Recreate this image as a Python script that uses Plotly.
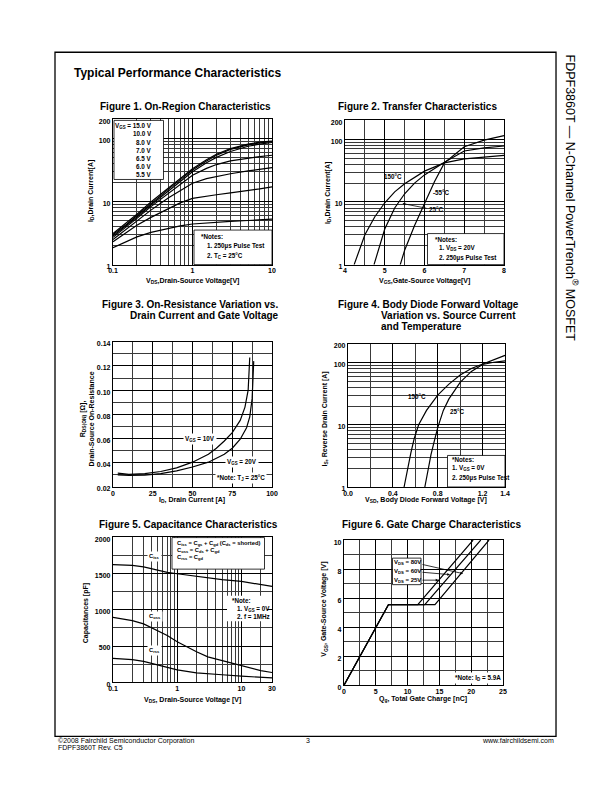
import plotly.graph_objects as go
import math

W, H = 612, 792
FONT = "Liberation Sans, Arial, sans-serif"

# ---------------- DATA ----------------
# Figure 1: On-Region Characteristics (ID vs VDS, by VGS)
f1_vds = [0.1, 0.15, 0.2, 0.3, 0.5, 0.7, 1, 1.5, 2, 3, 5, 7, 10]
f1_id_15v = [3.1, 4.6, 6.3, 9.8, 16.5, 23, 33, 46, 56, 69, 81, 87, 91]
f1_id_10v = [3.0, 4.4, 6.0, 9.3, 15.7, 22, 31.5, 44, 54, 67, 79, 85, 89]
f1_id_8v = [2.85, 4.2, 5.7, 8.8, 14.8, 20.5, 29.5, 41, 50, 62, 75, 81, 86]
f1_id_7v = [2.7, 4.0, 5.4, 8.3, 13.6, 18.6, 26, 33.5, 38.5, 44, 49, 51.5, 54]
f1_id_65v = [2.5, 3.7, 4.9, 7.3, 11.5, 15, 19.5, 23, 25, 27.5, 30.5, 32.5, 34.5]
f1_id_6v = [2.3, 3.3, 4.2, 5.6, 7.8, 9.5, 11.2, 12.2, 12.8, 13.7, 14.8, 15.8, 17]
f1_id_55v = [1.85, 2.35, 2.75, 3.25, 3.8, 4.1, 4.4, 4.6, 4.7, 4.85, 5.0, 5.1, 5.25]
f1_legend = ["15.0 V", "10.0 V", "8.0 V", "7.0 V", "6.5 V", "6.0 V", "5.5 V"]

# Figure 2: Transfer Characteristics
f2_vgs_150 = [4.23, 4.5, 4.75, 5.0, 5.25, 5.5, 6.0, 6.5, 7.0, 7.5, 8.0]
f2_id_150 = [1.0, 3.0, 5.8, 9.7, 14.5, 19.5, 31, 42, 48.5, 52.5, 55.5]
f2_vgs_25 = [4.73, 5.0, 5.25, 5.5, 5.75, 6.0, 6.5, 7.0, 7.5, 8.0]
f2_id_25 = [1.0, 3.7, 8.0, 13.5, 20, 27, 43, 65, 73, 78]
f2_vgs_m55 = [5.39, 5.5, 5.75, 6.0, 6.25, 6.5, 7.0, 7.5, 8.0]
f2_id_m55 = [1.0, 1.7, 4.2, 9.5, 21, 42, 76, 97, 114]

# Figure 3: On-Resistance vs Drain Current
f3_id_10v = [3, 10, 20, 30, 40, 50, 60, 65, 70, 75, 80, 83, 85, 86]
f3_r_10v = [0.0315, 0.0305, 0.031, 0.0328, 0.0358, 0.0405, 0.047, 0.052, 0.058,
            0.065, 0.075, 0.086, 0.100, 0.127]
f3_id_20v = [3, 10, 20, 30, 40, 50, 60, 70, 75, 80, 84, 86, 87.5, 88.5]
f3_r_20v = [0.0300, 0.0295, 0.0298, 0.031, 0.0333, 0.0365, 0.0405, 0.047, 0.052,
            0.0595, 0.069, 0.078, 0.093, 0.124]

# Figure 4: Body Diode Forward Voltage
f4_vsd_150 = [0.50, 0.53, 0.56, 0.59, 0.63, 0.7, 0.8, 0.9, 1.0, 1.1, 1.2, 1.3, 1.4]
f4_is_150 = [1.0, 2.0, 3.5, 6.0, 10, 17, 30, 45, 63, 80, 95, 112, 130]
f4_vsd_25 = [0.685, 0.71, 0.74, 0.77, 0.8, 0.85, 0.9, 1.0, 1.1, 1.2, 1.3, 1.4]
f4_is_25 = [1.0, 1.8, 3.3, 5.5, 9, 17, 26, 48, 72, 93, 101, 106]

# Figure 5: Capacitance Characteristics
f5_vds = [0.1, 0.2, 0.3, 0.5, 0.7, 1, 2, 3, 5, 10, 20, 30]
f5_ciss = [1620, 1610, 1590, 1545, 1515, 1495, 1460, 1440, 1415, 1390, 1345, 1320]
f5_coss = [895, 850, 805, 715, 645, 560, 420, 350, 300, 225, 160, 135]
f5_crss = [330, 312, 288, 240, 205, 172, 130, 115, 104, 85, 68, 60]

# Figure 6: Gate Charge Characteristics
f6_qg_25v = [0, 7.0, 11.6, 20.3]
f6_vgs_25v = [0, 5.56, 5.56, 10]
f6_qg_60v = [0, 7.0, 12.7, 21.5]
f6_vgs_60v = [0, 5.56, 5.56, 10]
f6_qg_80v = [0, 7.0, 14.3, 22.8]
f6_vgs_80v = [0, 5.56, 5.56, 10]

# ---------------- HELPERS ----------------
# page-pixel -> paper coordinates (compensates for the page placement of the figure)
SX, OX = 0.982, 12.0
SY, OY = 0.9895, 11.8


def px(x):
    return ((x - OX) / SX) / W


def py(y):
    return 1 - ((y - OY) / SY) / H


fig = go.Figure()
annotations = []
shapes = []


def line_trace(x, y, n, width=1.2):
    xa = "x" if n == 1 else f"x{n}"
    ya = "y" if n == 1 else f"y{n}"
    fig.add_trace(go.Scatter(x=x, y=y, mode="lines", xaxis=xa, yaxis=ya,
                             line=dict(color="black", width=width),
                             hoverinfo="skip", showlegend=False))


def txt(x, y, s, size=6.5, bold=True, xanchor="center", yanchor="middle",
        angle=0, bg=None, color="black"):
    a = dict(x=px(x), y=py(y), xref="paper", yref="paper", text=s,
             showarrow=False, xanchor=xanchor, yanchor=yanchor,
             textangle=angle,
             font=dict(family=FONT, size=size, color=color,
                       weight="bold" if bold else "normal"))
    if bg:
        a["bgcolor"] = bg
        a["borderpad"] = 1
    annotations.append(a)


def arrow(tip, tail):
    annotations.append(dict(x=px(tip[0]), y=py(tip[1]), xref="paper", yref="paper",
                            text="", showarrow=True, ax=tail[0] - tip[0],
                            ay=tail[1] - tip[1], arrowhead=2, arrowsize=0.7,
                            arrowwidth=0.8, arrowcolor="black"))


def box(x0, y0, x1, y1, border=True):
    shapes.append(dict(type="rect", xref="paper", yref="paper",
                       x0=px(x0), x1=px(x1), y0=py(y1), y1=py(y0),
                       fillcolor="white",
                       line=dict(color="black", width=0.8 if border else 0),
                       layer="above"))


def axis(dom, anchor, typ, rng, major, labels, minor, is_x):
    d = dict(domain=dom, anchor=anchor, type=typ, range=rng,
             showline=True, mirror=True, linecolor="black", linewidth=1.3,
             ticks="", tickmode="array", tickvals=major, ticktext=labels,
             showgrid=True, gridcolor="black", gridwidth=1.1, zeroline=False,
             tickfont=dict(family=FONT, size=7, color="black", weight="bold"),
             minor=dict(tickmode="array", tickvals=minor, showgrid=True,
                        gridcolor="#3a3a3a", gridwidth=0.5, ticks=""),
             fixedrange=True)
    if is_x:
        d["ticklabelstandoff"] = -1
    else:
        d["ticklabelshift"] = 2
    return d


def xdom(a, b):
    return [px(a), px(b)]


def ydom(top, bottom):
    return [py(bottom), py(top)]


log_minor_1_200 = [2, 3, 4, 5, 6, 7, 8, 9, 20, 30, 40, 50, 60, 70, 80, 90]

# ---------------- TRACES ----------------
for ys in [f1_id_15v, f1_id_10v, f1_id_8v, f1_id_7v, f1_id_65v, f1_id_6v, f1_id_55v]:
    line_trace(f1_vds, ys, 1)

line_trace(f2_vgs_150, f2_id_150, 2)
line_trace(f2_vgs_25, f2_id_25, 2)
line_trace(f2_vgs_m55, f2_id_m55, 2)

line_trace(f3_id_10v, f3_r_10v, 3)
line_trace(f3_id_20v, f3_r_20v, 3)

line_trace(f4_vsd_150, f4_is_150, 4)
line_trace(f4_vsd_25, f4_is_25, 4)

line_trace(f5_vds, f5_ciss, 5)
line_trace(f5_vds, f5_coss, 5)
line_trace(f5_vds, f5_crss, 5)

line_trace(f6_qg_25v, f6_vgs_25v, 6)
line_trace(f6_qg_60v, f6_vgs_60v, 6)
line_trace(f6_qg_80v, f6_vgs_80v, 6)

# ---------------- AXES ----------------
layout_axes = dict(
    xaxis=axis(xdom(112, 271), "y", "log", [-1, 1], [0.1, 1, 10], ["0.1", "1", "10"],
               [0.2, 0.3, 0.4, 0.5, 0.6, 0.7, 0.8, 0.9, 2, 3, 4, 5, 6, 7, 8, 9], True),
    yaxis=axis(ydom(121, 266), "x", "log", [0, math.log10(200)], [1, 10, 100, 200],
               ["1", "10", "100", "200"], log_minor_1_200, False),
    xaxis2=axis(xdom(344, 503), "y2", "linear", [4, 8], [4, 5, 6, 7, 8],
                ["4", "5", "6", "7", "8"], [4.5, 5.5, 6.5, 7.5], True),
    yaxis2=axis(ydom(122, 266), "x2", "log", [0, math.log10(200)], [1, 10, 100, 200],
                ["1", "10", "100", "200"], log_minor_1_200, False),
    xaxis3=axis(xdom(112, 271), "y3", "linear", [0, 100], [0, 25, 50, 75, 100],
                ["0", "25", "50", "75", "100"], [12.5, 37.5, 62.5, 87.5], True),
    yaxis3=axis(ydom(343, 488), "x3", "linear", [0.02, 0.14],
                [0.02, 0.04, 0.06, 0.08, 0.10, 0.12, 0.14],
                ["0.02", "0.04", "0.06", "0.08", "0.10", "0.12", "0.14"],
                [0.03, 0.05, 0.07, 0.09, 0.11, 0.13], False),
    xaxis4=axis(xdom(347, 504), "y4", "linear", [0, 1.4], [0, 0.4, 0.8, 1.2, 1.4],
                ["0.0", "0.4", "0.8", "1.2", "1.4"], [0.2, 0.6, 1.0], True),
    yaxis4=axis(ydom(345, 488), "x4", "log", [0, math.log10(200)], [1, 10, 100, 200],
                ["1", "10", "100", "200"], log_minor_1_200, False),
    xaxis5=axis(xdom(112, 271), "y5", "log", [-1, math.log10(30)], [0.1, 1, 10, 30],
                ["0.1", "1", "10", "30"],
                [0.2, 0.3, 0.4, 0.5, 0.6, 0.7, 0.8, 0.9, 2, 3, 4, 5, 6, 7, 8, 9, 20], True),
    yaxis5=axis(ydom(538, 683), "x5", "linear", [0, 2000], [0, 500, 1000, 1500, 2000],
                ["0", "500", "1000", "1500", "2000"], [250, 750, 1250, 1750], False),
    xaxis6=axis(xdom(343, 502), "y6", "linear", [0, 25], [0, 5, 10, 15, 20, 25],
                ["0", "5", "10", "15", "20", "25"], [2.5, 7.5, 12.5, 17.5, 22.5], True),
    yaxis6=axis(ydom(541, 686), "x6", "linear", [0, 10], [0, 2, 4, 6, 8, 10],
                ["0", "2", "4", "6", "8", "10"], [1, 3, 5, 7, 9], False),
)

# ---------------- PAGE TEXT ----------------
shapes.append(dict(type="rect", xref="paper", yref="paper", x0=px(54), x1=px(555),
                   y0=py(737), y1=py(54), line=dict(color="black", width=1.3),
                   fillcolor="rgba(0,0,0,0)", layer="below"))
txt(71, 75, "Typical Performance Characteristics", size=12, xanchor="left")
txt(571, 199, "FDPF3860T — N-Channel PowerTrench<sup>®</sup> MOSFET", size=12.5,
    bold=False, angle=90)

# Figure titles
txt(184, 108.5, "Figure 1. On-Region Characteristics", size=10)
txt(416, 108.5, "Figure 2. Transfer Characteristics", size=10)
txt(99, 306, "Figure 3. On-Resistance Variation vs.", size=10, xanchor="left")
txt(127, 317, "Drain Current and Gate Voltage", size=10, xanchor="left")
txt(335, 306, "Figure 4. Body Diode Forward Voltage", size=10, xanchor="left")
txt(378, 317, "Variation vs. Source Current", size=10, xanchor="left")
txt(378, 328, "and Temperature", size=10, xanchor="left")
txt(187, 525, "Figure 5. Capacitance Characteristics", size=10)
txt(430, 525, "Figure 6. Gate Charge Characteristics", size=10)

# Axis titles
txt(191, 282.5, "V<sub>DS</sub>,Drain-Source Voltage[V]", size=7)
txt(89.5, 193, "I<sub>D</sub>,Drain Current[A]", size=7, angle=-90)
txt(423, 282.5, "V<sub>GS</sub>,Gate-Source Voltage[V]", size=7)
txt(326.5, 195, "I<sub>D</sub>,Drain Current[A]", size=7, angle=-90)
txt(191, 501, "I<sub>D</sub>, Drain Current [A]", size=7)
txt(85.5, 420, "R<sub>DS(ON)</sub> [Ω],<br>Drain-Source On-Resistance", size=7, angle=-90)
txt(425, 501, "V<sub>SD</sub>, Body Diode Forward Voltage [V]", size=7)
txt(323.5, 420, "I<sub>S</sub>, Reverse Drain Current [A]", size=7, angle=-90)
txt(191, 700.5, "V<sub>DS</sub>, Drain-Source Voltage [V]", size=7)
txt(85, 614, "Capacitances [pF]", size=7, angle=-90)
txt(422, 700, "Q<sub>g</sub>, Total Gate Charge [nC]", size=7)
txt(323.5, 610, "V<sub>GS</sub>, Gate-Source Voltage [V]", size=7, angle=-90)

# Figure 1 legend & notes
box(113, 122, 162.5, 181)
for i, lab in enumerate(f1_legend):
    s = ("V<sub>GS</sub> = " + lab) if i == 0 else lab
    txt(153, 127.5 + i * 8.05, s, size=6.3, xanchor="right")
box(193, 231.5, 271, 266)
txt(198, 238, "*Notes:", size=6.3, xanchor="left")
txt(203.5, 247, "1. 250µs Pulse Test", size=6.3, xanchor="left")
txt(203.5, 257.5, "2. T<sub>C</sub> = 25°C", size=6.3, xanchor="left")

# Figure 2 labels & notes
txt(391.5, 178.5, "150°C", size=6.3)
txt(440, 193.5, "-55°C", size=6.3)
txt(435, 211, "25°C", size=6.3)
arrow((401.5, 205), (427, 210))
box(426.5, 235, 503, 266)
txt(431.5, 241, "*Notes:", size=6.3, xanchor="left")
txt(436, 249.5, "1. V<sub>DS</sub> = 20V", size=6.3, xanchor="left")
txt(436, 259, "2. 250µs Pulse Test", size=6.3, xanchor="left")

# Figure 3 labels
txt(198.5, 440.5, "V<sub>GS</sub> = 10V", size=6.3, bg="white")
txt(241, 463.5, "V<sub>GS</sub> = 20V", size=6.3, bg="white")
txt(240, 479.5, "*Note: T<sub>J</sub> = 25°C", size=6.3, bg="white")

# Figure 4 labels & notes
txt(415.5, 398, "150°C", size=6.3)
txt(456.5, 412.5, "25°C", size=6.3)
box(446.5, 456.5, 504, 488)
txt(449, 460.5, "*Notes:", size=6.3, xanchor="left")
txt(449, 469.5, "1. V<sub>GS</sub> = 0V", size=6.3, xanchor="left")
txt(449, 479, "2. 250µs Pulse Test", size=6.3, xanchor="left")

# Figure 5 labels & notes
box(171, 538.5, 263.5, 570)
txt(173.5, 544.5, "C<sub>iss</sub> = C<sub>gs</sub> + C<sub>gd</sub> (C<sub>ds</sub> = shorted)",
    size=5.8, xanchor="left")
txt(173.5, 551.5, "C<sub>oss</sub> = C<sub>ds</sub> + C<sub>gd</sub>", size=5.8, xanchor="left")
txt(173.5, 558.5, "C<sub>rss</sub> = C<sub>gd</sub>", size=5.8, xanchor="left")
txt(153.5, 557.5, "C<sub>iss</sub>", size=5.8, bg="white")
txt(154, 617.5, "C<sub>oss</sub>", size=5.8, bg="white")
txt(153.5, 651.5, "C<sub>rss</sub>", size=5.8, bg="white")
box(226, 596.5, 266, 622, border=False)
txt(228.5, 601, "*Note:", size=6.3, xanchor="left")
txt(233.5, 609.5, "1. V<sub>GS</sub> = 0V", size=6.3, xanchor="left")
txt(233.5, 617.5, "2. f = 1MHz", size=6.3, xanchor="left")

# Figure 6 labels & notes
box(391.5, 559, 420, 585.5)
txt(406, 563.5, "V<sub>DS</sub> = 80V", size=6)
txt(406, 572.5, "V<sub>DS</sub> = 60V", size=6)
txt(406, 581, "V<sub>DS</sub> = 25V", size=6)
arrow((462, 574.5), (420, 565))
arrow((449, 575.5), (420, 573))
arrow((437.5, 581), (420, 581))
txt(477, 678.5, "*Note: I<sub>D</sub> = 5.9A", size=6.3, bg="white")

# Footer
txt(55, 741.5, "©2008 Fairchild Semiconductor Corporation", size=7, bold=False, xanchor="left")
txt(55, 748.5, "FDPF3860T Rev. C5", size=7, bold=False, xanchor="left")
txt(307, 741.5, "3", size=7, bold=False)
txt(555, 741.5, "www.fairchildsemi.com", size=7, bold=False, xanchor="right")

fig.update_layout(
    width=W, height=H, margin=dict(l=0, r=0, t=0, b=0, pad=0),
    paper_bgcolor="white", plot_bgcolor="white", showlegend=False,
    font=dict(family=FONT, color="black"),
    annotations=annotations, shapes=shapes, **layout_axes,
)

fig.write_html("out.html")
